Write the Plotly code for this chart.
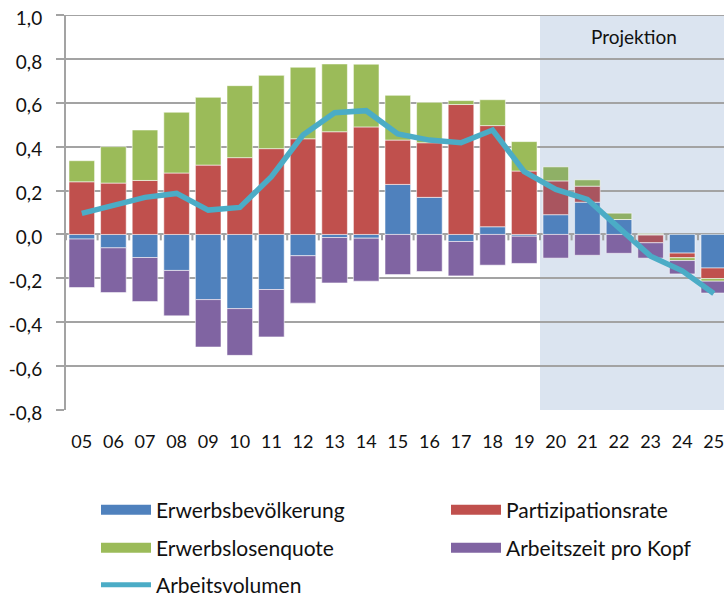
import plotly.graph_objects as go

years = ["05", "06", "07", "08", "09", "10", "11", "12", "13", "14", "15",
         "16", "17", "18", "19", "20", "21", "22", "23", "24", "25"]

erwerbsbevoelkerung = [-0.021, -0.061, -0.105, -0.164, -0.297, -0.338, -0.251, -0.097, -0.014, -0.017, 0.228,
                       0.169, -0.032, 0.035, -0.008, 0.090, 0.147, 0.068, -0.003, -0.085, -0.153]
partizipationsrate = [0.240, 0.234, 0.246, 0.280, 0.316, 0.350, 0.391, 0.436, 0.468, 0.490, 0.202,
                      0.249, 0.592, 0.461, 0.289, 0.154, 0.073, 0.0, -0.035, -0.021, -0.048]
erwerbslosenquote = [0.096, 0.166, 0.230, 0.277, 0.309, 0.328, 0.334, 0.326, 0.309, 0.286, 0.204,
                     0.184, 0.018, 0.118, 0.134, 0.064, 0.029, 0.029, 0.004, -0.013, -0.012]
arbeitszeit_pro_kopf = [-0.221, -0.204, -0.201, -0.207, -0.216, -0.213, -0.216, -0.216, -0.207, -0.196, -0.183,
                        -0.169, -0.157, -0.140, -0.124, -0.108, -0.095, -0.086, -0.070, -0.061, -0.054]
arbeitsvolumen = [0.096, 0.135, 0.169, 0.187, 0.111, 0.123, 0.263, 0.453, 0.555, 0.564, 0.458,
                  0.430, 0.418, 0.476, 0.286, 0.205, 0.160, 0.030, -0.099, -0.166, -0.269]

y_tickvals = [-0.8, -0.6, -0.4, -0.2, 0.0, 0.2, 0.4, 0.6, 0.8, 1.0]
y_ticktext = ["-0,8", "-0,6", "-0,4", "-0,2", "0,0", "0,2", "0,4", "0,6", "0,8", "1,0"]

projection_start = "20"

BLUE = "#4f81bd"
RED = "#c0504d"
GREEN = "#9bbb59"
PURPLE = "#8064a2"
LINE = "#4bacc6"
RED_PROJ = "#a9555f"
GREEN_PROJ = "#8fb066"
GRID = "#a3a3a3"
FONT = "Lato"
TXT = "#111111"

xi = list(range(len(years)))
proj_idx = years.index(projection_start)
muted = {15, 16, 17, 18}
red_colors = [RED_PROJ if i in muted else RED for i in xi]
green_colors = [GREEN_PROJ if i in muted else GREEN for i in xi]

edge = dict(color="rgba(255,255,255,0.55)", width=1)

fig = go.Figure()
fig.add_trace(go.Bar(x=xi, y=erwerbsbevoelkerung, marker=dict(color=BLUE, line=edge),
                     name="Erwerbsbevölkerung", showlegend=False))
fig.add_trace(go.Bar(x=xi, y=partizipationsrate, marker=dict(color=red_colors, line=edge),
                     name="Partizipationsrate", showlegend=False))
fig.add_trace(go.Bar(x=xi, y=erwerbslosenquote, marker=dict(color=green_colors, line=edge),
                     name="Erwerbslosenquote", showlegend=False))
fig.add_trace(go.Bar(x=xi, y=arbeitszeit_pro_kopf, marker=dict(color=PURPLE, line=edge),
                     name="Arbeitszeit pro Kopf", showlegend=False))
fig.add_trace(go.Scatter(x=xi, y=arbeitsvolumen, mode="lines",
                         line=dict(color=LINE, width=5.5), name="Arbeitsvolumen", showlegend=False))

W, H = 724, 598
PLOT_LEFT, PLOT_TOP, PLOT_BOTTOM = 66, 15, 410   # page pixels (body margin removed below)
L = PLOT_LEFT
T = PLOT_TOP
plot_h = PLOT_BOTTOM - PLOT_TOP
B = H - T - plot_h
plot_w = W - L
pitch = 31.6
x_max = -0.5 + plot_w / pitch


def px_to_paper_y(py):
    return (PLOT_BOTTOM - py) / plot_h


def px_to_paper_x(px):
    return (px - PLOT_LEFT) / plot_w


# legend entries: (name, colour, line width, legend id, left px, centre y px)
legend_items = [
    ("Erwerbsbevölkerung", BLUE, 13, "legend", 96, 510),
    ("Partizipationsrate", RED, 13, "legend2", 446, 510),
    ("Erwerbslosenquote", GREEN, 13, "legend3", 96, 548),
    ("Arbeitszeit pro Kopf", PURPLE, 13, "legend4", 446, 548),
    ("Arbeitsvolumen", LINE, 5, "legend5", 96, 585),
]
legend_layout = {}
for name, col, w, lg, lx, ly in legend_items:
    fig.add_trace(go.Scatter(x=[None], y=[None], mode="lines", line=dict(color=col, width=w),
                             name=name, legend=lg, showlegend=True))
    legend_layout[lg] = dict(orientation="h", itemwidth=50, x=px_to_paper_x(lx), y=px_to_paper_y(ly),
                             xanchor="left", yanchor="middle", bgcolor="rgba(0,0,0,0)",
                             font=dict(family=FONT, size=21, color=TXT), itemclick=False)

# projection shading
fig.add_shape(type="rect", xref="x", yref="paper", x0=proj_idx - 0.5, x1=len(years) + 1,
              y0=0, y1=1, fillcolor="#dbe4f0", line=dict(width=0), layer="below")

# top gridline (at the edge of the plotting area)
fig.add_shape(type="line", xref="paper", yref="y", x0=0, x1=1, y0=y_tickvals[-1], y1=y_tickvals[-1],
              line=dict(color=GRID, width=2), layer="between")

# x tick marks on the zero line
for i in range(len(years) + 1):
    fig.add_shape(type="line", xref="x", yref="y", x0=i - 0.5, x1=i - 0.5, y0=0, y1=-0.027,
                  line=dict(color=GRID, width=2), layer="above")

fig.add_annotation(text="Projektion", xref="x", yref="paper", x=17.47, y=px_to_paper_y(37),
                   xanchor="center", yanchor="middle",
                   showarrow=False, font=dict(family=FONT, size=19, color=TXT))

fig.update_layout(
    width=W, height=H,
    margin=dict(l=L, r=0, t=T, b=B, autoexpand=False),
    paper_bgcolor="white", plot_bgcolor="white",
    barmode="relative", bargap=0.19,
    font=dict(family=FONT, size=19, color=TXT),
    xaxis=dict(range=[-0.5, x_max], tickmode="array", tickvals=xi, ticktext=years,
               showgrid=False, zeroline=False, showline=False, ticks="",
               ticklabeloverflow="allow",
               ticklabelstandoff=19, tickfont=dict(family=FONT, size=18, color=TXT)),
    yaxis=dict(range=[-0.8, 1.0], tickmode="array", tickvals=y_tickvals, ticktext=y_ticktext,
               showgrid=True, gridcolor=GRID, gridwidth=2,
               zeroline=True, zerolinecolor=GRID, zerolinewidth=2,
               showline=True, linecolor=GRID, linewidth=2,
               ticks="outside", ticklen=8, tickcolor=GRID, tickwidth=2,
               ticklabeloverflow="allow", ticklabelshift=3,
               ticklabelstandoff=10, tickfont=dict(family=FONT, size=19, color=TXT)),
    **legend_layout,
)

fig.write_html(
    "out.html",
    config={"displayModeBar": False},
    post_script="document.body.style.margin='0';document.documentElement.style.overflow='hidden';",
)
